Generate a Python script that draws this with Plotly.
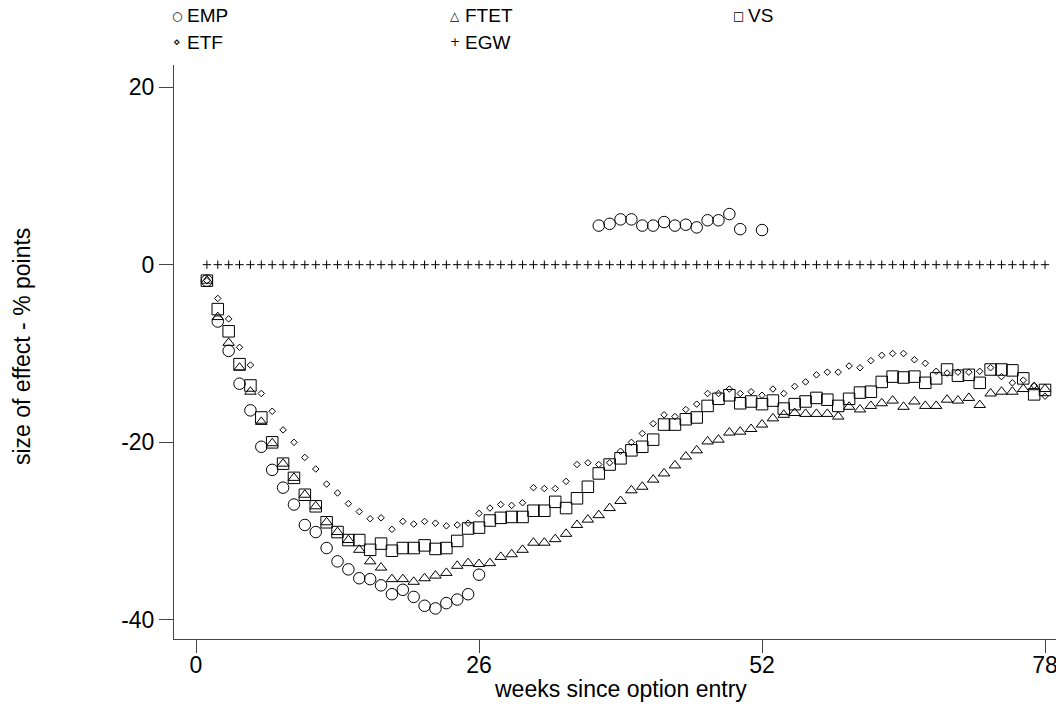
import plotly.graph_objects as go

weeks = [1, 2, 3, 4, 5, 6, 7, 8, 9, 10, 11, 12, 13, 14, 15, 16, 17, 18, 19, 20,
         21, 22, 23, 24, 25, 26, 27, 28, 29, 30, 31, 32, 33, 34, 35, 36, 37, 38, 39, 40,
         41, 42, 43, 44, 45, 46, 47, 48, 49, 50, 51, 52, 53, 54, 55, 56, 57, 58, 59, 60,
         61, 62, 63, 64, 65, 66, 67, 68, 69, 70, 71, 72, 73, 74, 75, 76, 77, 78]

emp = [-1.8, -6.4, -9.7, -13.4, -16.4, -20.5, -23.1, -25.1, -27.0, -29.3,
       -30.1, -31.9, -33.4, -34.3, -35.3, -35.4, -36.1, -37.1, -36.6, -37.4,
       -38.4, -38.7, -38.1, -37.7, -37.1, -34.9, None, None, None, None,
       None, None, None, None, None, None, 4.4, 4.6, 5.1, 5.1,
       4.4, 4.4, 4.8, 4.4, 4.5, 4.2, 5.0, 5.0, 5.7, 4.0,
       None, 3.9, None, None, None, None, None, None, None, None,
       None, None, None, None, None, None, None, None, None, None,
       None, None, None, None, None, None, None, None]

ftet = [-1.8, -5.9, -8.8, -11.6, -14.3, -17.7, -20.1, -22.4, -24.0, -25.9,
        -27.2, -29.0, -30.1, -31.0, -32.1, -33.4, -34.1, -35.4, -35.4, -35.7,
        -35.3, -35.0, -34.7, -33.9, -33.6, -33.7, -33.6, -32.9, -32.6, -32.1,
        -31.3, -31.3, -30.9, -30.3, -29.3, -28.7, -28.2, -27.4, -26.6, -25.4,
        -25.0, -24.2, -23.5, -22.6, -21.6, -20.9, -19.9, -19.7, -18.9, -18.8,
        -18.5, -18.0, -17.3, -16.9, -16.7, -16.8, -16.8, -16.8, -17.1, -16.0,
        -16.3, -15.9, -15.6, -15.3, -16.0, -15.4, -15.9, -15.9, -15.2, -15.3,
        -15.0, -15.8, -14.5, -14.3, -14.3, -14.0, -13.8, -14.0]

vs = [-1.8, -5.0, -7.5, -11.2, -13.6, -17.2, -20.0, -22.4, -24.0, -25.9,
      -27.2, -29.0, -30.1, -31.0, -31.0, -32.1, -31.4, -32.2, -31.9, -31.9,
      -31.6, -32.0, -31.9, -31.1, -29.7, -29.6, -28.8, -28.5, -28.4, -28.4,
      -27.7, -27.7, -26.7, -27.4, -26.3, -25.0, -23.5, -22.5, -21.8, -20.9,
      -20.5, -19.7, -18.0, -18.0, -17.4, -17.2, -15.9, -15.1, -14.7, -15.6,
      -15.4, -15.7, -15.3, -16.2, -15.7, -15.4, -15.0, -15.2, -15.9, -15.1,
      -14.4, -14.3, -13.2, -12.6, -12.7, -12.6, -13.3, -12.8, -11.8, -12.5,
      -12.4, -13.3, -11.8, -11.8, -11.9, -12.8, -14.6, -14.1]

etf = [-1.8, -3.8, -6.1, -9.3, -11.3, -14.5, -16.5, -18.6, -20.0, -21.7,
       -23.0, -24.7, -25.7, -26.9, -27.8, -28.6, -28.5, -29.8, -28.9, -29.2,
       -28.9, -29.1, -29.4, -29.3, -29.1, -28.0, -27.4, -27.0, -27.1, -26.8,
       -25.1, -25.2, -25.2, -24.4, -22.5, -22.3, -22.5, -22.3, -21.0, -20.0,
       -19.0, -17.9, -16.9, -17.1, -16.3, -15.7, -14.5, -14.5, -14.0, -14.5,
       -14.3, -14.7, -14.0, -14.5, -13.7, -13.2, -12.4, -12.1, -12.1, -11.4,
       -11.6, -10.8, -10.2, -10.0, -10.0, -10.7, -11.1, -12.0, -12.2, -12.1,
       -12.1, -12.0, -11.6, -12.6, -13.3, -13.0, -13.6, -14.8]

egw = [0.0, 0.0, 0.0, 0.0, 0.0, 0.0, 0.0, 0.0, 0.0, 0.0,
       0.0, 0.0, 0.0, 0.0, 0.0, 0.0, 0.0, 0.0, 0.0, 0.0,
       0.0, 0.0, 0.0, 0.0, 0.0, 0.0, 0.0, 0.0, 0.0, 0.0,
       0.0, 0.0, 0.0, 0.0, 0.0, 0.0, 0.0, 0.0, 0.0, 0.0,
       0.0, 0.0, 0.0, 0.0, 0.0, 0.0, 0.0, 0.0, 0.0, 0.0,
       0.0, 0.0, 0.0, 0.0, 0.0, 0.0, 0.0, 0.0, 0.0, 0.0,
       0.0, 0.0, 0.0, 0.0, 0.0, 0.0, 0.0, 0.0, 0.0, 0.0,
       0.0, 0.0, 0.0, 0.0, 0.0, 0.0, 0.0, 0.0]

x_ticks = [0, 26, 52, 78]
y_ticks = [-40, -20, 0, 20]
legend_names = ["EMP", "FTET", "VS", "ETF", "EGW"]
legend_glyphs = ["\u25CB", "\u25B3", "\u25A1", "\u22C4", "+"]

FONT = "Liberation Sans, Arial, Helvetica, sans-serif"
OFF = 8  # page body margin
W, H = 1064 - OFF, 704 - OFF
ML, MR, MT, MB = 174 - OFF, 0, 65 - OFF, 704 - 639
PW, PH = W - ML - MR, H - MT - MB
XSCALE = 10.885


def px_x(p):
    return (p - OFF - ML) / PW


def px_y(p):
    return (H - MB - (p - OFF)) / PH


fig = go.Figure()

series = [
    (emp, "EMP", "circle-open", 11.5, 1),
    (ftet, "FTET", "triangle-up-open", 10, 1),
    (vs, "VS", "square-open", 11.5, 1),
    (etf, "ETF", "diamond-open", 5, 1),
    (egw, "EGW", "cross-thin-open", 6, 1),
]
for vals, name, sym, size, lw in series:
    fig.add_trace(go.Scatter(
        x=weeks, y=vals, mode="markers", name=name, showlegend=False,
        marker=dict(symbol=sym, size=size, color="black",
                    line=dict(color="black", width=lw)),
        cliponaxis=False,
    ))

# legend rows: small glyph + label
leg_pos = [(177, 16), (455, 16), (738, 16), (177, 42), (455, 42)]
anns = []
for (gx, gy), g, name in zip(leg_pos, legend_glyphs, legend_names):
    anns.append(dict(x=px_x(gx), y=px_y(gy), xref="paper", yref="paper",
                     text=g, showarrow=False, xanchor="center", yanchor="middle",
                     font=dict(family="DejaVu Sans, sans-serif", size=12, color="black")))
    anns.append(dict(x=px_x(gx + 8), y=px_y(gy), xref="paper", yref="paper",
                     text=name, showarrow=False, xanchor="left", yanchor="middle",
                     font=dict(family=FONT, size=19, color="black")))

anns.append(dict(x=px_x(22), y=px_y(347), xref="paper", yref="paper",
                 text="size of effect - % points", showarrow=False, textangle=-90,
                 xanchor="center", yanchor="middle",
                 font=dict(family=FONT, size=23, color="black")))
anns.append(dict(x=px_x(620), y=px_y(689), xref="paper", yref="paper",
                 text="weeks since option entry", showarrow=False,
                 xanchor="center", yanchor="middle",
                 font=dict(family=FONT, size=23, color="black")))

x0 = (174 - 196) / XSCALE
fig.update_layout(
    width=W, height=H,
    margin=dict(l=ML, r=MR, t=MT, b=MB, pad=0),
    paper_bgcolor="white", plot_bgcolor="white",
    showlegend=False,
    font=dict(family=FONT, size=23, color="black"),
    annotations=anns,
    xaxis=dict(range=[x0, x0 + PW / XSCALE], tickvals=x_ticks, ticktext=[str(t) for t in x_ticks],
               showgrid=False, zeroline=False, showline=True, linecolor="#444", linewidth=1,
               ticks="outside", ticklen=13, tickcolor="#444", tickwidth=1,
               ticklabelstandoff=-8,
               tickfont=dict(family=FONT, size=23, color="black")),
    yaxis=dict(range=[-42.14, 22.48], tickvals=y_ticks, ticktext=[str(t) for t in y_ticks],
               showgrid=False, zeroline=False, showline=True, linecolor="#444", linewidth=1,
               ticks="outside", ticklen=14, tickcolor="#444", tickwidth=1,
               tickfont=dict(family=FONT, size=23, color="black")),
)

fig.write_html("out.html")
